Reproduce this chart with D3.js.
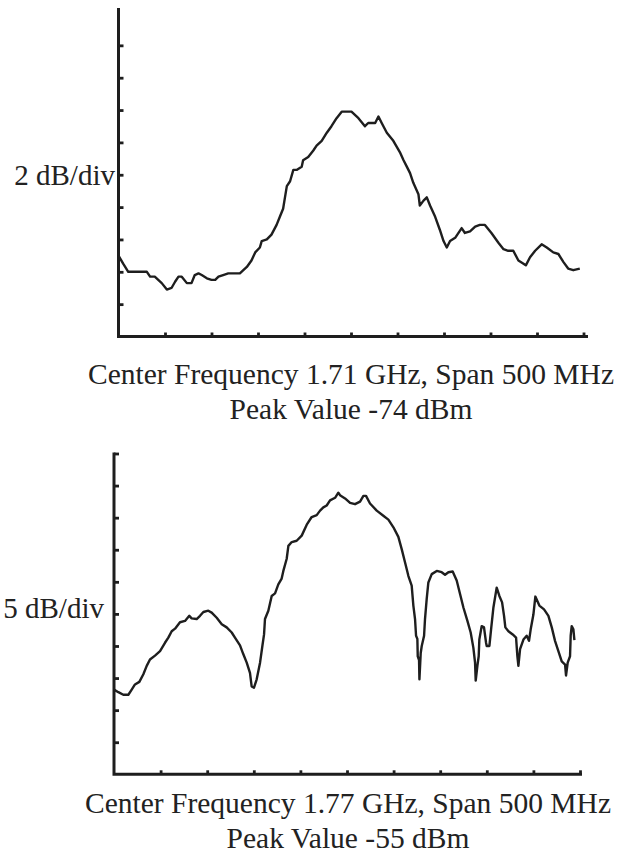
<!DOCTYPE html>
<html>
<head>
<meta charset="utf-8">
<script src="https://cdn.jsdelivr.net/npm/d3@7"></script>
<style>
  body { margin: 0; background: #fff; }
  text { font-family: "Liberation Serif", "Times New Roman", serif; fill: #222; }
</style>
</head>
<body>
<svg id="chart" width="627" height="854"></svg>
<script>
// trace 1: center 1.71 GHz, 2 dB/div
const topFreq = [1460, 1465, 1470.5, 1490.5, 1494, 1499, 1506.5, 1512, 1517, 1521, 1524.5, 1528, 1533.5, 1538.5, 1542, 1546, 1549.5, 1555, 1560, 1564, 1567.5, 1572.5, 1578, 1590.5, 1598, 1603, 1607, 1612, 1614, 1619.5, 1624.5, 1630, 1633.5, 1637, 1639, 1641, 1644.5, 1648, 1651.5, 1657, 1658.5, 1664, 1669.5, 1673, 1678.5, 1684, 1689, 1694.5, 1700, 1710.5, 1718, 1725, 1728.5, 1736, 1739.5, 1743, 1748.5, 1755.5, 1762.5, 1766.5, 1770, 1773.5, 1777, 1782.5, 1784, 1788, 1791.5, 1795, 1800.5, 1805.5, 1809.5, 1813, 1816.5, 1822, 1829, 1832.5, 1838, 1843.5, 1848.5, 1854, 1861, 1868.5, 1874, 1879, 1884.5, 1890, 1895.5, 1898, 1902.5, 1908, 1915, 1920.5, 1927.5, 1933, 1938.5, 1943.5, 1949, 1956]
const topLevel = [-83.0, -83.5, -84.0, -84.0, -84.3, -84.3, -84.7, -85.1, -85.0, -84.6, -84.3, -84.3, -84.7, -84.7, -84.2, -84.1, -84.2, -84.4, -84.5, -84.5, -84.3, -84.2, -84.1, -84.1, -83.7, -83.3, -82.8, -82.5, -82.1, -82.0, -81.7, -81.1, -80.6, -80.1, -79.4, -78.7, -78.4, -77.7, -77.7, -77.5, -77.1, -76.9, -76.5, -76.2, -75.9, -75.4, -75.0, -74.5, -74.1, -74.1, -74.5, -75.0, -74.8, -74.8, -74.4, -74.8, -75.4, -75.9, -76.6, -77.1, -77.5, -77.9, -78.5, -79.2, -79.9, -79.6, -79.4, -79.9, -80.6, -81.4, -82.1, -82.5, -82.1, -81.9, -81.3, -81.6, -81.5, -81.2, -81.1, -81.1, -81.6, -82.2, -82.6, -82.7, -82.7, -83.3, -83.5, -83.6, -83.1, -82.7, -82.3, -82.5, -82.8, -82.9, -83.4, -83.8, -83.9, -83.8]

// trace 2: center 1.77 GHz, 5 dB/div
const bottomFreq = [1520.0, 1524.7, 1530.0, 1535.4, 1539.0, 1542.5, 1547.2, 1551.5, 1555.1, 1558.6, 1564.0, 1569.4, 1574.7, 1578.3, 1581.9, 1585.5, 1590.8, 1596.2, 1600.8, 1603.3, 1608.7, 1612.3, 1615.9, 1621.2, 1624.8, 1630.2, 1635.6, 1640.9, 1646.3, 1649.8, 1655.2, 1658.8, 1662.4, 1665.9, 1667.7, 1670.2, 1673.1, 1676.7, 1679.2, 1681.0, 1682.0, 1685.6, 1689.2, 1692.8, 1696.3, 1699.9, 1701.7, 1705.3, 1707.1, 1710.7, 1716.0, 1721.4, 1726.8, 1732.1, 1737.5, 1741.1, 1744.6, 1748.2, 1751.8, 1757.2, 1760.7, 1762.5, 1767.9, 1773.3, 1778.6, 1784.0, 1787.6, 1790.4, 1794.7, 1801.9, 1809.0, 1814.4, 1819.8, 1825.1, 1828.7, 1832.3, 1835.9, 1839.4, 1841.2, 1843.0, 1844.1, 1845.5, 1845.9, 1847.3, 1847.7, 1849.1, 1850.2, 1852.7, 1853.7, 1855.5, 1857.3, 1860.9, 1866.3, 1871.6, 1875.2, 1878.8, 1883.4, 1887.7, 1891.3, 1894.9, 1899.2, 1902.7, 1905.6, 1907.4, 1908.1, 1909.9, 1911.3, 1912.0, 1914.5, 1917.0, 1919.2, 1919.9, 1922.8, 1924.6, 1927.1, 1930.6, 1933.5, 1936.4, 1938.5, 1939.9, 1943.2, 1947.8, 1951.4, 1952.8, 1953.9, 1955.7, 1959.3, 1962.8, 1965.3, 1967.1, 1970.0, 1972.1, 1976.4, 1981.4, 1986.1, 1989.7, 1993.2, 1996.8, 2000.4, 2004.0, 2005.0, 2006.8, 2009.3, 2010.0, 2011.1, 2012.9, 2014.0]
const bottomLevel = [-85.8, -86.2, -86.6, -86.6, -85.8, -85.0, -84.6, -83.4, -82.1, -81.1, -80.5, -79.8, -78.5, -77.7, -76.7, -76.3, -75.3, -75.1, -74.3, -74.7, -74.8, -74.3, -73.7, -73.5, -73.8, -74.6, -75.6, -76.1, -76.9, -77.7, -78.9, -80.3, -81.6, -83.2, -85.3, -85.5, -84.2, -81.6, -79.0, -77.2, -74.8, -73.5, -71.2, -70.8, -69.4, -68.5, -67.3, -65.4, -63.4, -62.8, -62.6, -61.8, -60.1, -58.9, -58.6, -57.9, -57.4, -57.1, -56.3, -55.9, -55.1, -55.5, -56.0, -56.7, -56.9, -56.5, -55.6, -55.6, -56.8, -57.9, -58.7, -59.3, -60.5, -62.0, -63.9, -66.0, -68.1, -69.6, -72.7, -74.8, -77.4, -77.9, -80.6, -81.2, -84.2, -80.1, -79.0, -77.4, -74.8, -71.7, -69.1, -67.8, -67.3, -67.5, -67.9, -67.5, -67.4, -68.8, -70.9, -73.0, -75.1, -76.9, -79.3, -81.6, -84.4, -82.1, -80.6, -78.0, -75.9, -76.1, -78.5, -79.0, -79.0, -76.4, -73.0, -69.9, -71.2, -72.2, -74.3, -76.1, -76.7, -77.2, -77.7, -80.6, -82.1, -79.5, -78.0, -77.4, -78.2, -76.4, -74.1, -71.3, -72.7, -73.3, -74.3, -76.1, -78.2, -79.8, -81.4, -81.9, -83.6, -81.6, -80.6, -77.4, -75.9, -76.4, -78.1]

const scaleLabels = ["2 dB/div", "5 dB/div"]
const captions = [
  ["Center Frequency 1.71 GHz, Span 500 MHz", "Peak Value -74 dBm"],
  ["Center Frequency 1.77 GHz, Span 500 MHz", "Peak Value -55 dBm"]
]

const svg = d3.select("#chart")
const ink = "#1e1e1e"

const panels = [
  {
    freq: topFreq, level: topLevel, label: scaleLabels[0], caption: captions[0],
    xDomain: [1460, 1960], yDomain: [-88, -68], dbPerDiv: 2,
    left: 118.5, right: 583.5, top: 13, bottom: 336.5, axisTop: 8, axisEnd: 588,
    topTick: false, labelX: 115, labelY: 185, capX: 351, capY: 384
  },
  {
    freq: bottomFreq, level: bottomLevel, label: scaleLabels[1], caption: captions[1],
    xDomain: [1520, 2020], yDomain: [-99, -49], dbPerDiv: 5,
    left: 114, right: 580, top: 453.5, bottom: 774.3, axisTop: 452.5, axisEnd: 582,
    topTick: true, labelX: 104, labelY: 618, capX: 348, capY: 813
  }
]

function drawPanel(p) {
  const x = d3.scaleLinear().domain(p.xDomain).range([p.left, p.right])
  const y = d3.scaleLinear().domain(p.yDomain).range([p.bottom, p.top])
  const g = svg.append("g")

  const yTicks = d3.range(p.yDomain[0] + p.dbPerDiv, p.yDomain[1] + (p.topTick ? 0.01 : -0.01), p.dbPerDiv)
  const xStep = (p.xDomain[1] - p.xDomain[0]) / 10
  const xTicks = d3.range(1, 11).map((i) => p.xDomain[0] + i * xStep)

  const yAxis = g
    .append("g")
    .attr("transform", `translate(${p.left},0)`)
    .call(d3.axisRight(y).tickValues(yTicks).tickSize(5).tickSizeOuter(0).tickFormat(""))
  yAxis.select(".domain").remove()

  const xAxis = g
    .append("g")
    .attr("transform", `translate(0,${p.bottom})`)
    .call(d3.axisTop(x).tickValues(xTicks).tickSize(4).tickSizeOuter(0).tickFormat(""))
  xAxis.select(".domain").remove()

  g.selectAll(".tick line").attr("stroke", ink).attr("stroke-width", 2.8)

  // axis frame (left and bottom)
  g.append("path")
    .attr("d", `M${p.left},${p.axisTop}V${p.bottom}H${p.axisEnd}`)
    .attr("fill", "none")
    .attr("stroke", ink)
    .attr("stroke-width", 3)

  const line = d3
    .line()
    .x((d, i) => x(p.freq[i]))
    .y((d) => y(d))

  g.append("path")
    .datum(p.level)
    .attr("d", line)
    .attr("fill", "none")
    .attr("stroke", ink)
    .attr("stroke-width", 2.4)
    .attr("stroke-linejoin", "round")

  g.append("text")
    .attr("x", p.labelX)
    .attr("y", p.labelY)
    .attr("text-anchor", "end")
    .attr("font-size", 29)
    .text(p.label)

  g.selectAll(".caption")
    .data(p.caption)
    .join("text")
    .attr("class", "caption")
    .attr("x", p.capX)
    .attr("y", (d, i) => p.capY + i * 35)
    .attr("text-anchor", "middle")
    .attr("font-size", 29.5)
    .text((d) => d)
}

panels.forEach(drawPanel)
</script>
</body>
</html>
